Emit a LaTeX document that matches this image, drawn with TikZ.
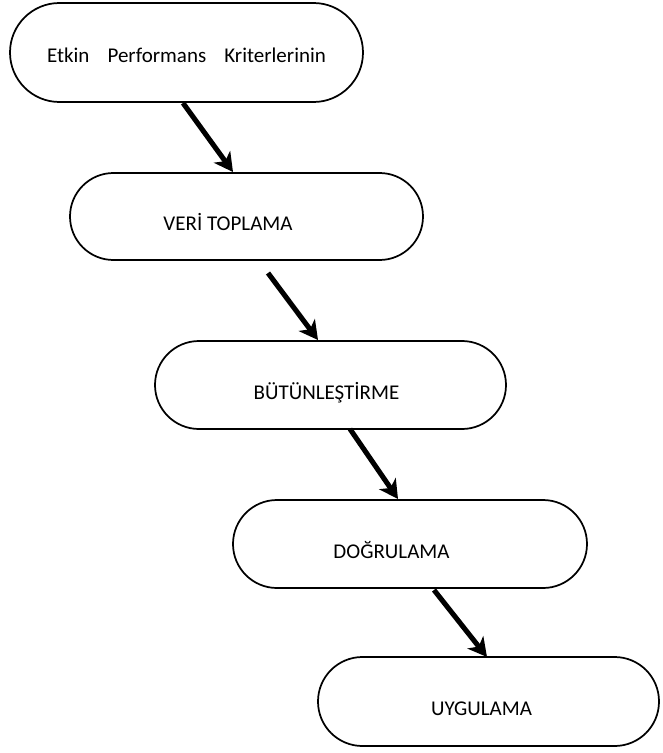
\documentclass[tikz,border=0pt]{standalone}
\usepackage{fontspec}
\setmainfont{Carlito}
\usetikzlibrary{arrows.meta}

\tikzset{
  stagebox/.style={draw=black, line width=1.3pt, fill=white, rectangle,
    inner sep=0pt, minimum width=#1},
  stagetext/.style={anchor=base, inner sep=0pt, font=\fontsize{15.75pt}{19pt}\selectfont},
  flowarrow/.style={line width=3.8pt, line cap=butt,
    -{Stealth[length=14pt, width=15pt, inset=4pt]}},
}

\begin{document}
\begin{tikzpicture}[x=0.75pt, y=-0.75pt]
  \useasboundingbox (0,0) rectangle (662,753);

  % process stages (rounded capsules)
  \node[stagebox=264.75pt, minimum height=74.25pt, rounded corners=37.1pt] (b1) at (186.5,52.5) {};
  \node[stagebox=264.75pt, minimum height=65.25pt, rounded corners=32.6pt] (b2) at (246.5,216.5) {};
  \node[stagebox=263.25pt, minimum height=66pt, rounded corners=33pt] (b3) at (330.5,385) {};
  \node[stagebox=265.5pt, minimum height=66pt, rounded corners=33pt] (b4) at (410,544) {};
  \node[stagebox=255.75pt, minimum height=66.75pt, rounded corners=33.3pt] (b5) at (488.5,701.5) {};

  % stage labels
  \node[stagetext] (l1) at (186.5,62) {Etkin\hspace{10pt} Performans\hspace{10pt} Kriterlerinin};
  \node[stagetext] (l2) at (228,230) {VERİ TOPLAMA};
  \node[stagetext] (l3) at (326.5,399) {BÜTÜNLEŞTİRME};
  \node[stagetext] (l4) at (391.5,558) {DOĞRULAMA};
  \node[stagetext] (l5) at (481.5,715) {UYGULAMA};

  % arrow ends between consecutive stages
  \coordinate (a1s) at (183,103);
  \coordinate (a1e) at (233,172);
  \coordinate (a2s) at (268,273);
  \coordinate (a2e) at (318,340);
  \coordinate (a3s) at (350,429);
  \coordinate (a3e) at (398,499);
  \coordinate (a4s) at (434,590);
  \coordinate (a4e) at (487,657);

  \draw[flowarrow] (a1s) -- (a1e);
  \draw[flowarrow] (a2s) -- (a2e);
  \draw[flowarrow] (a3s) -- (a3e);
  \draw[flowarrow] (a4s) -- (a4e);
\end{tikzpicture}
\end{document}
